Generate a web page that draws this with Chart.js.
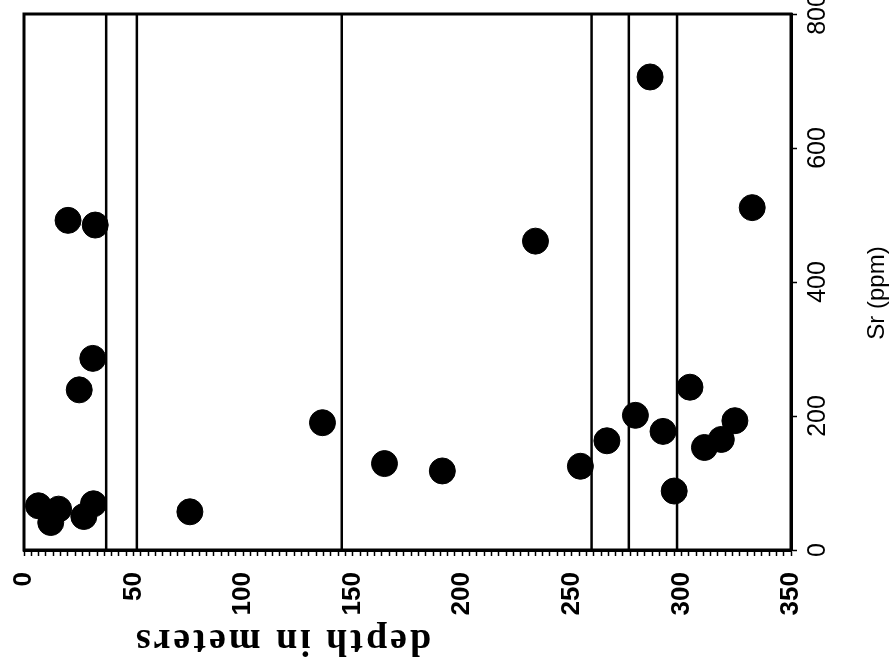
<!DOCTYPE html>
<html>
<head>
<meta charset="utf-8">
<script src="https://cdn.jsdelivr.net/npm/chart.js@4.4.1/dist/chart.umd.min.js"></script>
<style>
  html, body { margin: 0; padding: 0; background: #fff; }
</style>
</head>
<body>
<canvas id="srChart" width="890" height="668"></canvas>
<script>
// sample depth (m) and Sr content (ppm)
const depth = [20.1, 32.5, 31.4, 25.2, 6.6, 12.2, 15.8, 27.3, 31.7, 75.7,
               136.2, 164.5, 190.9, 233.4, 253.9, 266, 279, 291.6, 303.9, 296.7,
               310.5, 318.2, 324.4, 285.7, 332.3];
const sr = [492, 485, 286, 239, 66, 41, 61, 50, 69, 57,
            190, 129, 118, 461, 125, 163, 201, 177, 243, 88,
            153, 165, 193, 706, 511];

// unit boundaries down the hole (m)
const boundaries = [37.5, 51.5, 145, 259, 276, 298];

const depthTicks = [0, 50, 100, 150, 200, 250, 300, 350];
const srTicks = [0, 200, 400, 600, 800];
const minorPerMajor = 15;

const black = '#000';

const samples = depth.map((d, i) => ({ x: d, y: sr[i] }));

const boundarySets = boundaries.map(d => ({
  data: [{ x: d, y: srTicks[0] }, { x: d, y: srTicks[srTicks.length - 1] }],
  showLine: true,
  borderColor: black,
  borderWidth: 2.5,
  pointRadius: 0,
  order: 2
}));

// box round the plot, rotated axis captions and the Sr tick labels
const decorations = {
  id: 'decorations',
  afterDraw(chart) {
    const { ctx, chartArea: a } = chart;
    const ys = chart.scales.y;
    ctx.save();
    ctx.strokeStyle = black;
    ctx.lineWidth = 3;
    ctx.strokeRect(a.left, a.top, a.right - a.left, a.bottom - a.top);

    ctx.fillStyle = black;
    ctx.textAlign = 'center';
    ctx.textBaseline = 'middle';

    ctx.font = '25px "Liberation Sans"';
    srTicks.forEach(v => {
      ctx.save();
      ctx.translate(a.right + 27, ys.getPixelForValue(v));
      ctx.rotate(-Math.PI / 2);
      ctx.fillText(String(v), 0, 0);
      ctx.restore();
    });

    ctx.save();
    ctx.translate(877, 293);
    ctx.rotate(-Math.PI / 2);
    ctx.font = '24px "Liberation Sans"';
    ctx.fillText('Sr (ppm)', 0, 0);
    ctx.restore();

    ctx.save();
    ctx.translate(282, 640);
    ctx.rotate(Math.PI);
    ctx.font = 'bold 38px "Liberation Serif"';
    ctx.letterSpacing = '3px';
    ctx.fillText('depth in meters', 0, 0);
    ctx.restore();

    ctx.restore();
  }
};

new Chart(document.getElementById('srChart'), {
  type: 'scatter',
  data: {
    datasets: [
      {
        data: samples,
        backgroundColor: black,
        borderColor: black,
        pointRadius: 13,
        pointHoverRadius: 13,
        order: 1
      },
      ...boundarySets
    ]
  },
  options: {
    responsive: false,
    animation: false,
    devicePixelRatio: 1,
    layout: { padding: { left: 24, top: 12, right: 0, bottom: 0 } },
    plugins: { legend: { display: false }, tooltip: { enabled: false } },
    scales: {
      x: {
        type: 'linear',
        min: depthTicks[0],
        max: depthTicks[depthTicks.length - 1],
        afterBuildTicks: scale => {
          const step = (depthTicks[1] - depthTicks[0]) / minorPerMajor;
          const n = Math.round((scale.max - scale.min) / step);
          scale.ticks = [];
          for (let i = 0; i <= n; i++) scale.ticks.push({ value: scale.min + i * step });
        },
        afterFit: scale => { scale.height = 118; },
        ticks: {
          autoSkip: false,
          minRotation: 90,
          maxRotation: 90,
          padding: 16,
          color: black,
          font: { family: 'Liberation Sans', size: 26, weight: 'bold' },
          callback: v => {
            const r = Math.round(v);
            return depthTicks.includes(r) && Math.abs(v - r) < 1e-6 ? String(r) : '';
          }
        },
        grid: { drawOnChartArea: false, tickLength: 6, tickWidth: 1.5, tickColor: black },
        border: { display: true, color: black, width: 3 }
      },
      y: {
        type: 'linear',
        position: 'right',
        min: srTicks[0],
        max: srTicks[srTicks.length - 1],
        afterBuildTicks: scale => { scale.ticks = srTicks.map(v => ({ value: v })); },
        afterFit: scale => { scale.width = 99; },
        ticks: { display: false },
        grid: { drawOnChartArea: false, tickLength: 6, tickWidth: 1.5, tickColor: black },
        border: { display: true, color: black, width: 3 }
      }
    }
  },
  plugins: [decorations]
});
</script>
</body>
</html>
